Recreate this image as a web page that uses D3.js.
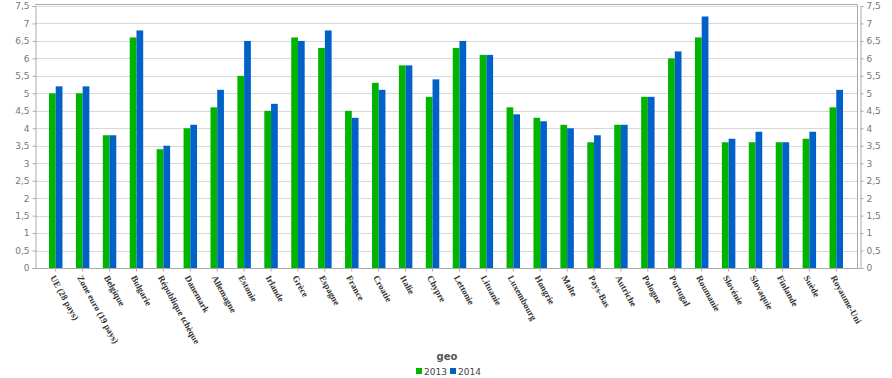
<!DOCTYPE html>
<html>
<head>
<meta charset="utf-8">
<script src="https://cdn.jsdelivr.net/npm/d3@7"></script>
<style>
  body { margin: 0; background: #fff; }
  .axis text { font-family: "DejaVu Sans", Verdana, sans-serif; font-size: 9px; fill: #777; }
  .axis path, .axis line { stroke: #aaa; }
  .xlabel { font-family: "Liberation Serif", serif; font-size: 9px; font-weight: bold; fill: #333; }
</style>
</head>
<body>
<div id="chart"></div>
<script>
var categories = ["UE (28 pays)", "Zone euro (19 pays)", "Belgique", "Bulgarie", "République tchèque",
    "Danemark", "Allemagne", "Estonie", "Irlande", "Grèce", "Espagne", "France", "Croatie", "Italie",
    "Chypre", "Lettonie", "Lituanie", "Luxembourg", "Hongrie", "Malte", "Pays-Bas", "Autriche",
    "Pologne", "Portugal", "Roumanie", "Slovénie", "Slovaquie", "Finlande", "Suède", "Royaume-Uni"];
var values2013 = [5.0, 5.0, 3.8, 6.6, 3.4, 4.0, 4.6, 5.5, 4.5, 6.6, 6.3, 4.5, 5.3, 5.8, 4.9, 6.3, 6.1,
    4.6, 4.3, 4.1, 3.6, 4.1, 4.9, 6.0, 6.6, 3.6, 3.6, 3.6, 3.7, 4.6];
var values2014 = [5.2, 5.2, 3.8, 6.8, 3.5, 4.1, 5.1, 6.5, 4.7, 6.5, 6.8, 4.3, 5.1, 5.8, 5.4, 6.5, 6.1,
    4.4, 4.2, 4.0, 3.8, 4.1, 4.9, 6.2, 7.2, 3.7, 3.9, 3.6, 3.9, 5.1];
var seriesNames = ["2013", "2014"];
var colors = ["#00b400", "#0062c8"];
var yTicks = d3.range(0, 7.51, 0.5);

function init() {
    var w = 892, h = 378;
    var left = 35, right = 857, top = 6, bottom = 268;

    var svg = d3.select("#chart").append("svg")
        .attr("width", w)
        .attr("height", h);

    var xScale = d3.scaleBand()
        .domain(categories)
        .range([left, right])
        .paddingInner(0.5)
        .paddingOuter(0.52);

    var yScale = d3.scaleLinear()
        .domain([0, 7.5])
        .range([bottom, top]);

    // grid lines
    svg.append("g")
        .selectAll("line")
        .data(yTicks)
        .enter()
        .append("line")
        .attr("x1", left)
        .attr("x2", right)
        .attr("y1", function(d) { return Math.round(yScale(d)) + 0.5; })
        .attr("y2", function(d) { return Math.round(yScale(d)) + 0.5; })
        .attr("stroke", "#d8d8d8");

    // top border
    svg.append("line")
        .attr("x1", left).attr("x2", right)
        .attr("y1", top - 1.5).attr("y2", top - 1.5)
        .attr("stroke", "#aaa");
    svg.append("line")
        .attr("x1", right + 0.5).attr("x2", right + 0.5)
        .attr("y1", top - 1.5).attr("y2", bottom)
        .attr("stroke", "#aaa");

    var fmt = function(d) { return d3.format("")(d).replace(".", ","); };

    var yAxisL = d3.axisLeft(yScale).tickValues(yTicks).tickFormat(fmt).tickSize(3).tickPadding(3);
    svg.append("g")
        .attr("class", "axis")
        .attr("transform", "translate(" + (left + 0.5) + ",0)")
        .call(yAxisL);

    var yAxisR = d3.axisRight(yScale).tickValues(yTicks).tickFormat(fmt).tickSize(3).tickPadding(3);
    svg.append("g")
        .attr("class", "axis")
        .attr("transform", "translate(" + (right + 3.5) + ",0)")
        .call(yAxisR);

    // bars
    var barW = xScale.bandwidth() / 2;
    [values2013, values2014].forEach(function(vals, s) {
        svg.append("g")
            .selectAll("rect")
            .data(vals)
            .enter()
            .append("rect")
            .attr("x", function(d, i) { return xScale(categories[i]) + s * barW; })
            .attr("y", function(d) { return yScale(d); })
            .attr("width", barW)
            .attr("height", function(d) { return bottom - yScale(d); })
            .attr("fill", colors[s]);
    });

    // x axis
    var xAxis = d3.axisBottom(xScale).tickSize(3).tickFormat("");
    svg.append("g")
        .attr("class", "axis")
        .attr("transform", "translate(0," + (bottom + 0.5) + ")")
        .call(xAxis)
        .select(".domain")
        .attr("d", "M" + left + ",0H" + (right + 3));

    svg.selectAll(".xlabel")
        .data(categories)
        .enter()
        .append("text")
        .attr("class", "xlabel")
        .attr("transform", function(d) {
            return "translate(" + (xScale(d) + xScale.bandwidth() / 2 - 3) + "," + (bottom + 8) + ") rotate(61)";
        })
        .attr("dy", "0.35em")
        .text(function(d) { return d; });

    // legend
    svg.append("text")
        .attr("x", 447)
        .attr("y", 360)
        .attr("text-anchor", "middle")
        .style("font-family", "DejaVu Sans, sans-serif")
        .style("font-size", "10px")
        .style("font-weight", "bold")
        .attr("fill", "#555")
        .text("geo");

    var legend = svg.append("g")
        .selectAll("g")
        .data(seriesNames)
        .enter()
        .append("g")
        .attr("transform", function(d, i) { return "translate(" + (416 + i * 34) + ",368)"; });
    legend.append("rect")
        .attr("width", 6)
        .attr("height", 6)
        .attr("fill", function(d, i) { return colors[i]; });
    legend.append("text")
        .attr("x", 8)
        .attr("y", 6.5)
        .style("font-family", "DejaVu Sans, sans-serif")
        .style("font-size", "9px")
        .attr("fill", "#444")
        .text(function(d) { return d; });
}

window.onload = init;
</script>
</body>
</html>
